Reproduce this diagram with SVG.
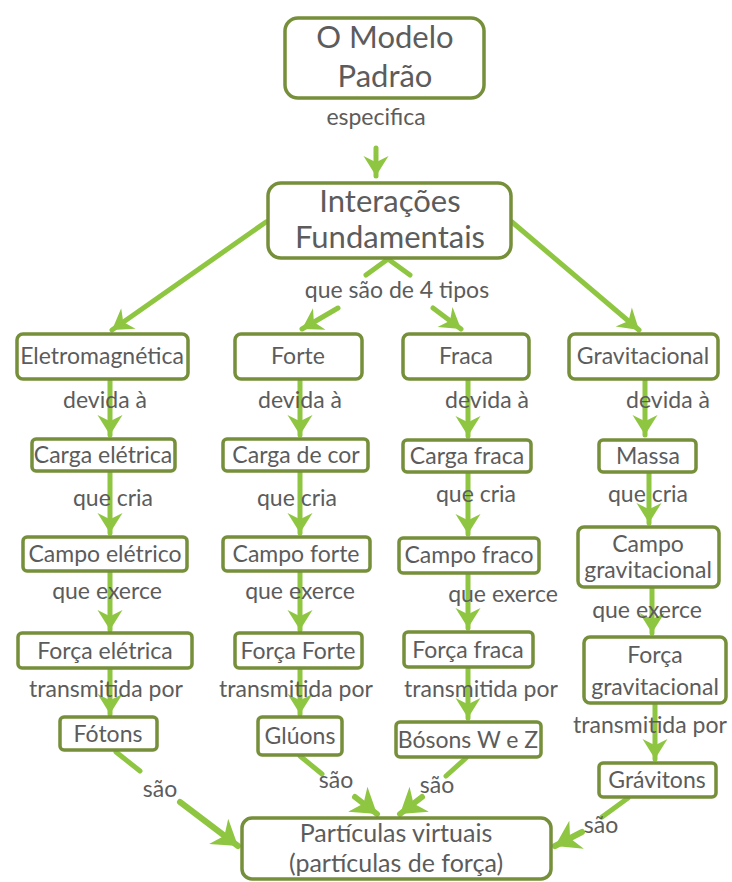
<svg xmlns="http://www.w3.org/2000/svg" width="732" height="882" viewBox="0 0 732 882">
<style>
  .box { fill: #ffffff; stroke: #768f3a; stroke-width: 3.5; }
  .t { font-family: Lato, "Open Sans", "Liberation Sans", sans-serif; fill: #5c5c5c; text-anchor: middle; }
  .n { font-size: 23px; }
  .big { font-size: 31px; }
  .lbl { font-size: 23px; }
  .c { stroke: #8fc641; stroke-width: 5; fill: none; stroke-linecap: round; }
  .ca { stroke: #8fc641; stroke-width: 5; fill: none; stroke-linecap: round; marker-end: url(#ah); }
  .cb { stroke: #8fc641; stroke-width: 6; fill: none; stroke-linecap: round; marker-end: url(#ahb); }
</style>
<defs>
  <marker id="ah" markerUnits="userSpaceOnUse" markerWidth="30" markerHeight="30" viewBox="-16 -12 20 24" refX="2" refY="0" orient="auto">
    <path d="M-14,-10 L2,0 L-14,10 L-9,0 Z" fill="#8fc641"/>
  </marker>
  <marker id="ahb" markerUnits="userSpaceOnUse" markerWidth="34" markerHeight="34" viewBox="-20 -14 24 28" refX="2" refY="0" orient="auto">
    <path d="M-18,-13 L2,0 L-18,13 L-12,0 Z" fill="#8fc641"/>
  </marker>
</defs>

<g id="connectors">
  <line class="ca" x1="376" y1="148" x2="376" y2="176"/>
  <line class="ca" x1="266" y1="222" x2="112" y2="330"/>
  <line class="ca" x1="512" y1="222" x2="639" y2="330"/>
  <line class="c" x1="388" y1="259" x2="366" y2="275"/>
  <line class="c" x1="388" y1="259" x2="410" y2="275"/>
  <line class="ca" x1="338" y1="308" x2="302" y2="329"/>
  <line class="ca" x1="433" y1="308" x2="461" y2="329"/>
  <!-- col1 -->
  <line class="ca" x1="110" y1="381" x2="110" y2="435"/>
  <line class="ca" x1="110" y1="472" x2="110" y2="533"/>
  <line class="ca" x1="110" y1="572" x2="110" y2="630"/>
  <line class="ca" x1="110" y1="669" x2="110" y2="714"/>
  <!-- col2 -->
  <line class="ca" x1="300" y1="381" x2="300" y2="435"/>
  <line class="ca" x1="300" y1="472" x2="300" y2="533"/>
  <line class="ca" x1="300" y1="572" x2="300" y2="630"/>
  <line class="ca" x1="300" y1="669" x2="300" y2="714"/>
  <!-- col3 -->
  <line class="ca" x1="468" y1="380" x2="468" y2="436"/>
  <line class="ca" x1="468" y1="473" x2="468" y2="534"/>
  <line class="ca" x1="468" y1="574" x2="468" y2="628"/>
  <line class="ca" x1="468" y1="668" x2="468" y2="718"/>
  <!-- col4 -->
  <line class="ca" x1="645" y1="380" x2="645" y2="435"/>
  <line class="ca" x1="649" y1="472" x2="649" y2="523"/>
  <line class="ca" x1="652" y1="588" x2="652" y2="633"/>
  <line class="ca" x1="655" y1="704" x2="655" y2="759"/>
  <!-- bottom -->
  <line class="c" x1="116" y1="752" x2="140" y2="771"/>
  <line class="cb" x1="180" y1="802" x2="238" y2="846"/>
  <line class="c" x1="300" y1="756" x2="322" y2="774"/>
  <line class="cb" x1="355" y1="797" x2="377" y2="814"/>
  <line class="c" x1="466" y1="758" x2="446" y2="776"/>
  <line class="cb" x1="422" y1="797" x2="400" y2="814"/>
  <line class="c" x1="628" y1="798" x2="602" y2="817"/>
  <line class="cb" x1="582" y1="832" x2="555" y2="846"/>
</g>

<g id="n-modelo"><rect class="box" x="285" y="18" width="199" height="80" rx="13"/>
  <text class="t big" x="385" y="48">O Modelo</text><text class="t big" x="385" y="87">Padrão</text></g>
<g id="n-interacoes"><rect class="box" x="268" y="183" width="243" height="75" rx="13"/>
  <text class="t big" x="390" y="212">Interações</text><text class="t big" x="390" y="248">Fundamentais</text></g>

<g id="n-eletromagnetica"><rect class="box" x="17" y="334" width="171" height="45" rx="6"/><text class="t n" x="102" y="364">Eletromagnética</text></g>
<g id="n-forte"><rect class="box" x="235" y="334" width="127" height="45" rx="6"/><text class="t n" x="298" y="364">Forte</text></g>
<g id="n-fraca"><rect class="box" x="403" y="334" width="126" height="45" rx="6"/><text class="t n" x="466" y="364">Fraca</text></g>
<g id="n-gravitacional"><rect class="box" x="569" y="334" width="149" height="45" rx="6"/><text class="t n" x="643" y="364">Gravitacional</text></g>

<g id="n-carga-eletrica"><rect class="box" x="32" y="439" width="143" height="32" rx="4"/><text class="t n" x="103" y="463">Carga elétrica</text></g>
<g id="n-carga-cor"><rect class="box" x="223" y="439" width="145" height="32" rx="4"/><text class="t n" x="296" y="463">Carga de cor</text></g>
<g id="n-carga-fraca"><rect class="box" x="403" y="440" width="128" height="32" rx="4"/><text class="t n" x="467" y="464">Carga fraca</text></g>
<g id="n-massa"><rect class="box" x="599" y="440" width="97" height="32" rx="4"/><text class="t n" x="648" y="464">Massa</text></g>

<g id="n-campo-eletrico"><rect class="box" x="23" y="537" width="164" height="34" rx="4"/><text class="t n" x="105" y="562">Campo elétrico</text></g>
<g id="n-campo-forte"><rect class="box" x="223" y="537" width="147" height="34" rx="4"/><text class="t n" x="296" y="562">Campo forte</text></g>
<g id="n-campo-fraco"><rect class="box" x="399" y="538" width="140" height="35" rx="4"/><text class="t n" x="469" y="563">Campo fraco</text></g>
<g id="n-campo-grav"><rect class="box" x="578" y="527" width="141" height="60" rx="6"/><text class="t n" x="648" y="552">Campo</text><text class="t n" x="648" y="578">gravitacional</text></g>

<g id="n-forca-eletrica"><rect class="box" x="18" y="633" width="174" height="35" rx="4"/><text class="t n" x="105" y="659">Força elétrica</text></g>
<g id="n-forca-forte"><rect class="box" x="235" y="633" width="127" height="35" rx="4"/><text class="t n" x="298" y="659">Força Forte</text></g>
<g id="n-forca-fraca"><rect class="box" x="404" y="632" width="129" height="35" rx="4"/><text class="t n" x="468" y="658">Força fraca</text></g>
<g id="n-forca-grav"><rect class="box" x="584" y="637" width="142" height="66" rx="6"/><text class="t n" x="655" y="663">Força</text><text class="t n" x="655" y="695">gravitacional</text></g>

<g id="n-fotons"><rect class="box" x="60" y="717" width="97" height="33" rx="4"/><text class="t n" x="108" y="742">Fótons</text></g>
<g id="n-gluons"><rect class="box" x="258" y="717" width="84" height="38" rx="4"/><text class="t n" x="300" y="744">Glúons</text></g>
<g id="n-bosons"><rect class="box" x="396" y="722" width="145" height="35" rx="4"/><text class="t n" x="468" y="748">Bósons W e Z</text></g>
<g id="n-gravitons"><rect class="box" x="599" y="763" width="117" height="34" rx="4"/><text class="t n" x="657" y="788">Grávitons</text></g>

<g id="n-particulas"><rect class="box" x="242" y="818" width="309" height="61" rx="10"/>
  <text class="t" style="font-size:25px" x="396" y="842">Partículas virtuais</text>
  <text class="t" style="font-size:25px" x="396" y="872">(partículas de força)</text></g>

<g id="labels">
  <text class="t lbl" x="376" y="125">especifica</text>
  <text class="t lbl" x="397" y="298">que são de 4 tipos</text>
  <text class="t lbl" x="105" y="408">devida à</text>
  <text class="t lbl" x="300" y="408">devida à</text>
  <text class="t lbl" x="487" y="408">devida à</text>
  <text class="t lbl" x="668" y="408">devida à</text>
  <text class="t lbl" x="113" y="506">que cria</text>
  <text class="t lbl" x="297" y="506">que cria</text>
  <text class="t lbl" x="476" y="502">que cria</text>
  <text class="t lbl" x="648" y="502">que cria</text>
  <text class="t lbl" x="107" y="599">que exerce</text>
  <text class="t lbl" x="300" y="599">que exerce</text>
  <text class="t lbl" x="503" y="602">que exerce</text>
  <text class="t lbl" x="647" y="618">que exerce</text>
  <text class="t lbl" x="106" y="697">transmitida por</text>
  <text class="t lbl" x="296" y="697">transmitida por</text>
  <text class="t lbl" x="481" y="697">transmitida por</text>
  <text class="t lbl" x="650" y="733">transmitida por</text>
  <text class="t lbl" x="160" y="797">são</text>
  <text class="t lbl" x="336" y="788">são</text>
  <text class="t lbl" x="437" y="793">são</text>
  <text class="t lbl" x="601" y="833">são</text>
</g>
</svg>
